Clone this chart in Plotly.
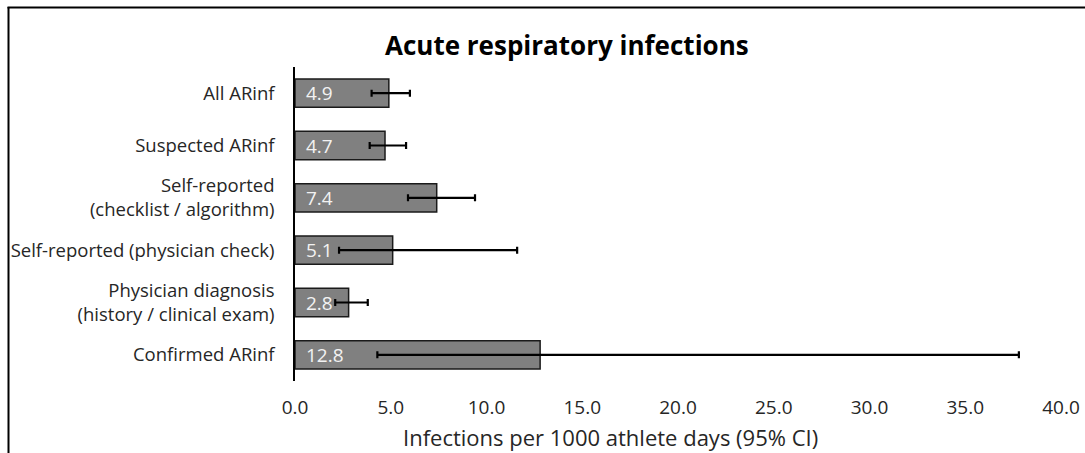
import plotly.graph_objects as go

categories = [
    "All ARinf",
    "Suspected ARinf",
    "Self-reported<br>(checklist / algorithm)",
    "Self-reported (physician check)",
    "Physician diagnosis<br>(history / clinical exam)",
    "Confirmed ARinf",
]
rates = [4.9, 4.7, 7.4, 5.1, 2.8, 12.8]
ci_low = [4.0, 3.9, 5.9, 2.3, 2.1, 4.3]
ci_high = [6.0, 5.8, 9.4, 11.6, 3.8, 37.8]
x_ticks = [0, 5, 10, 15, 20, 25, 30, 35, 40]
x_tick_labels = ["%.1f" % t for t in x_ticks]

W, H = 1085, 453
L, R, T, B = 295, 24, 67, 72
pw, ph = W - L - R, H - T - B

font_family = "'Open Sans', sans-serif"
txt = "#262626"


def px_x(x):
    return (x - L) / pw


def px_y(y):
    return (H - B - y) / ph


fig = go.Figure()
fig.add_trace(go.Bar(
    y=categories,
    x=rates,
    orientation="h",
    marker=dict(color="#808080", line=dict(color="#1a1a1a", width=1.5)),
    error_x=dict(
        type="data",
        symmetric=False,
        array=[h - v for h, v in zip(ci_high, rates)],
        arrayminus=[v - l for v, l in zip(rates, ci_low)],
        color="black",
        thickness=2.2,
        width=3.5,
    ),
    hoverinfo="skip",
))

annotations = []
for c, v in zip(categories, rates):
    annotations.append(dict(
        x=0, y=c, xref="x", yref="y", text="%.1f" % v, showarrow=False,
        xanchor="left", yanchor="middle", xshift=9,
        font=dict(family=font_family, size=19, color="#f2f2f2"),
    ))

annotations.append(dict(
    x=px_x(567), y=px_y(45), xref="paper", yref="paper",
    xanchor="center", yanchor="middle",
    text="<b>Acute respiratory infections</b>", showarrow=False,
    font=dict(family=font_family, size=26, color="black"),
))
annotations.append(dict(
    x=px_x(610), y=px_y(437), xref="paper", yref="paper",
    xanchor="center", yanchor="middle",
    text="Infections per 1000 athlete days (95% CI)", showarrow=False,
    font=dict(family=font_family, size=22, color=txt),
))

# outer chart border (left and top edges visible)
shapes = [
    dict(type="line", xref="paper", yref="paper", x0=px_x(8.5), x1=px_x(8.5),
         y0=px_y(7), y1=px_y(470), line=dict(color="black", width=2)),
    dict(type="line", xref="paper", yref="paper", x0=px_x(7.5), x1=px_x(1100),
         y0=px_y(7.5), y1=px_y(7.5), line=dict(color="black", width=2)),
]

fig.update_layout(
    width=W, height=H,
    margin=dict(l=L, r=R, t=T, b=B, pad=0, autoexpand=False),
    paper_bgcolor="white", plot_bgcolor="white",
    showlegend=False,
    bargap=0.46,
    annotations=annotations,
    shapes=shapes,
    font=dict(family=font_family, size=19, color=txt),
)
fig.update_xaxes(
    range=[0, 40], tickvals=x_ticks, ticktext=x_tick_labels,
    showgrid=False, zeroline=False, showline=False, ticks="",
    tickfont=dict(family=font_family, size=19, color=txt),
    ticklabelstandoff=13, automargin=False,
)
fig.update_yaxes(
    autorange="reversed", showgrid=False, zeroline=False,
    showline=True, linecolor="black", linewidth=1.5, ticks="",
    tickfont=dict(family=font_family, size=18.5, color=txt),
    ticklabelstandoff=15, automargin=False,
)

# remove the browser's default page margin so the figure fills the window exactly
fig.write_html(
    "out.html",
    config={"displayModeBar": False},
    post_script="document.body.style.margin='0';document.body.style.overflow='hidden';",
)
